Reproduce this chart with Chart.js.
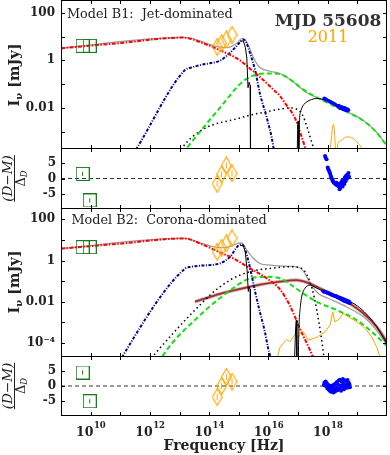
<!DOCTYPE html>
<html><head><meta charset="utf-8">
<script src="https://cdn.jsdelivr.net/npm/chart.js@4.4.1/dist/chart.umd.min.js"></script>
<style>
html,body{margin:0;padding:0;background:#fff;}
#wrap{position:relative;width:390px;height:455px;overflow:hidden;}
#wrap canvas{position:absolute;left:0;}
</style></head><body>
<div id="wrap">
<canvas id="c1" width="390" height="149" style="top:0px"></canvas>
<canvas id="c2" width="390" height="61" style="top:148px"></canvas>
<canvas id="c3" width="390" height="149" style="top:208px"></canvas>
<canvas id="c4" width="390" height="99" style="top:356px"></canvas>
</div>
<script>
// ===== axes (log10 of frequency in Hz, log10 of flux density in mJy) =====
const xRangeExp = [9, 20];
const xTickExps = [10, 12, 14, 16, 18];
const xMarkExps = [10, 11, 12, 13, 14, 15, 16, 17, 18, 19];
const yRangeB1 = [-3.73, 2.54];
const yRangeB2 = [-4.68, 2.55];
const yMarksB1 = [-3, -2, -1, 0, 1, 2];
const yMarksB2 = [-4, -3, -2, -1, 0, 1, 2];
const yLabelsB1 = {"2": "100", "0": "1", "-2": "0.01"};
const yLabelsB2 = {"2": "100", "0": "1", "-2": "0.01", "-4": "10\u207B\u2074"};
const resRange = [-10, 10];
const resMarks = [-5, 0, 5];

// ===== observed data =====
const radioNu = [9.73, 9.97];
const radioFluxB1 = [0.61, 0.61];
const radioFluxB2 = [0.65, 0.65];
const radioResB1 = [1.5, -7.2];
const radioResB2 = [4.5, -5.1];
const radioResErr = [0.7, 0.7];
const optNu = [14.27, 14.42, 14.58, 14.77];
const optFluxB1 = [0.57, 0.72, 0.88, 1.07];
const optFluxB2 = [0.43, 0.62, 0.83, 1.08];
const optResB1 = [-1.7, 1.4, 4.3, 1.7];
const optResB2 = [-3.7, 0.0, 3.0, 1.5];
const optResErr = [1, 1, 1, 1];

const xrayB1 = [[17.88,-1.60],[17.90,-1.62],[17.93,-1.63],[17.96,-1.66],[18.00,-1.69],[18.03,-1.70],[18.06,-1.72],[18.10,-1.75],[18.13,-1.77],[18.16,-1.79],[18.20,-1.82],[18.23,-1.84],[18.26,-1.86],[18.30,-1.90],[18.33,-1.92],[18.36,-1.95],[18.38,-1.90],[18.40,-2.00],[18.42,-1.96],[18.45,-2.02],[18.47,-1.95],[18.50,-2.05],[18.52,-1.99],[18.55,-2.08],[18.57,-2.00],[18.60,-2.10],[18.62,-2.03],[18.65,-2.12],[18.68,-2.06],[18.70,-2.10]];
const xrayResB1 = [[17.91,7.4],[17.93,6.8],[17.96,6.3],[18.00,3.6],[18.02,3.0],[18.04,2.6],[18.06,2.1],[18.08,1.6],[18.10,0.9],[18.12,0.5],[18.14,-0.2],[18.16,-0.5],[18.18,-0.9],[18.20,-1.2],[18.22,-1.5],[18.25,-1.7],[18.28,-2.0],[18.30,-1.4],[18.32,-2.3],[18.35,-1.8],[18.37,-2.6],[18.40,-3.5],[18.42,-1.9],[18.43,-3.0],[18.44,-1.5],[18.46,-2.2],[18.48,-0.8],[18.50,-2.6],[18.52,-1.2],[18.54,-0.3],[18.56,-1.8],[18.58,0.4],[18.60,-0.9],[18.62,0.9],[18.64,-0.2],[18.66,1.2],[18.68,0.3],[18.70,1.8],[18.72,0.6]];
const xrayB2 = [[17.85,-1.49],[17.88,-1.51],[17.91,-1.52],[17.94,-1.54],[17.97,-1.55],[18.00,-1.57],[18.03,-1.58],[18.06,-1.61],[18.09,-1.62],[18.12,-1.65],[18.15,-1.66],[18.18,-1.69],[18.21,-1.70],[18.24,-1.72],[18.27,-1.74],[18.30,-1.73],[18.33,-1.79],[18.36,-1.77],[18.39,-1.83],[18.42,-1.80],[18.45,-1.88],[18.48,-1.84],[18.51,-1.93],[18.54,-1.87],[18.57,-1.97],[18.60,-1.91],[18.63,-2.00],[18.66,-1.94],[18.69,-2.04],[18.72,-1.98],[18.75,-2.06]];
const xrayResB2 = [[17.87,0.3],[17.89,1.2],[17.91,0.6],[17.93,1.5],[17.95,-0.2],[17.97,0.9],[17.99,-0.8],[18.01,0.4],[18.03,-1.2],[18.05,0.2],[18.07,-1.6],[18.09,-0.4],[18.11,-1.9],[18.13,0.1],[18.15,-1.3],[18.17,-0.6],[18.19,-2.2],[18.21,0.5],[18.23,-1.0],[18.25,-1.8],[18.27,0.8],[18.29,-0.5],[18.31,1.3],[18.33,-1.4],[18.35,0.4],[18.37,1.8],[18.39,-0.9],[18.41,2.1],[18.43,0.2],[18.45,-1.6],[18.47,1.5],[18.49,-0.3],[18.51,2.3],[18.53,0.7],[18.55,-1.1],[18.57,1.9],[18.59,0.1],[18.61,-0.7],[18.63,1.4],[18.65,0.4],[18.67,2.0],[18.69,-0.5],[18.71,1.1],[18.73,0.6],[18.75,-0.4]];

// ===== model curves, Model B1 =====
const jetB1 = [[9,0.51],[11,0.73],[13.1,0.96],[13.3,0.93],[13.69,0.77],[14.36,0.43],[15.04,0.0],[15.38,-0.35],[15.6,-0.57],[16.16,-1.22],[16.39,-1.5],[16.56,-1.8],[16.9,-2.44],[17.06,-3.0],[17.23,-3.64],[17.4,-4.4]];
const discB1 = [[11.4,-4.0],[11.55,-3.71],[13.18,-0.41],[13.4,-0.3],[13.69,-0.2],[14.03,-0.12],[14.36,-0.02],[14.6,0.2],[14.81,0.45],[15.04,0.76],[15.15,0.88],[15.25,0.75],[15.38,0.3],[15.55,-0.41],[15.71,-1.39],[15.94,-2.4],[16.11,-3.25],[16.2,-3.9]];
const compB1 = [[13.1,-3.93],[13.24,-3.7],[13.69,-3.0],[14.36,-2.0],[15.04,-1.0],[15.3,-0.75],[15.6,-0.6],[15.94,-0.55],[16.39,-0.58],[16.73,-0.8],[17.17,-1.22],[17.63,-1.56],[18.1,-1.85],[18.64,-2.16],[19.19,-2.53],[19.6,-2.97],[20,-3.6]];
const dotB1 = [[12.95,-3.9],[13.07,-3.7],[13.4,-3.25],[13.69,-2.98],[14.1,-2.72],[14.81,-2.5],[15.4,-2.3],[15.94,-2.16],[16.39,-2.05],[16.7,-2.0],[16.95,-2.05],[17.15,-2.3],[17.3,-2.8],[17.45,-3.4],[17.58,-3.9]];
const totB1 = [[9,0.52],[13.1,0.97],[13.35,0.95],[13.69,0.82],[14.14,0.62],[14.59,0.53],[14.93,0.72],[15.1,0.92],[15.2,0.88],[15.32,0.65],[15.49,0.12],[15.71,-0.3],[16.05,-0.46],[16.39,-0.55],[16.83,-0.9],[17.29,-1.36],[17.63,-1.56],[18.64,-2.15],[19.19,-2.52],[19.6,-2.96],[20,-3.58]];
const absUvB1 = [[15.05,0.8],[15.15,0.82],[15.22,0.55],[15.27,0.1],[15.31,-1.15],[15.35,-0.92],[15.38,-1.05],[15.39,-2.5],[15.4,-4.5]];
const absXaB1 = [[16.96,-4.5],[16.99,-2.7],[17.0,-2.55],[17.02,-4.5]];
const absXbB1 = [[17.03,-4.5],[17.05,-2.5],[17.08,-2.2],[17.12,-2.02],[17.2,-1.85],[17.3,-1.74],[17.45,-1.65],[17.63,-1.6],[17.8,-1.63],[17.95,-1.72]];
const obs2011B1 = [[18.05,-4.4],[18.12,-3.3],[18.16,-2.85],[18.19,-2.69],[18.22,-2.9],[18.25,-3.5],[18.28,-4.3],[18.34,-3.55],[18.46,-3.36],[18.64,-3.22],[18.81,-3.26],[18.98,-3.43],[19.2,-3.8],[19.3,-4.1]];

// ===== model curves, Model B2 =====
const jetB2 = [[9,0.58],[11,0.82],[13.1,1.07],[13.25,1.06],[13.69,0.83],[14.36,0.4],[14.81,0.11],[15.38,-0.38],[15.94,-0.86],[16.39,-1.4],[16.73,-2.2],[17.06,-3.3],[17.4,-4.34],[17.6,-5.0]];
const discB2 = [[10.95,-5.0],[11.1,-4.59],[13.18,-0.4],[13.4,-0.3],[13.69,-0.25],[14.36,-0.14],[14.7,0.18],[14.98,0.72],[15.1,0.78],[15.27,0.27],[15.43,-0.7],[15.55,-1.51],[15.71,-2.49],[15.88,-3.46],[15.99,-4.26],[16.05,-4.59],[16.1,-5.0]];
const compB2 = [[12.3,-5.0],[12.45,-4.59],[13.69,-2.65],[14.36,-1.83],[15.04,-1.11],[15.38,-0.86],[15.94,-0.79],[16.39,-0.86],[16.73,-1.15],[17.17,-1.59],[17.63,-2.0],[18.3,-2.4],[18.98,-2.89],[19.54,-3.53],[20,-4.15]];
const dotB2 = [[12.05,-4.75],[12.23,-4.43],[13.35,-2.65],[13.69,-2.16],[14.03,-1.67],[14.7,-0.95],[15.38,-0.54],[16.05,-0.38],[16.73,-0.3],[17.12,-0.38],[17.3,-0.7],[17.47,-1.35],[17.63,-2.4],[17.8,-3.9],[17.88,-4.8]];
const coronaB2 = [[13.52,-2.0],[13.69,-1.92],[14.36,-1.62],[15.04,-1.38],[15.71,-1.17],[16.39,-1.02],[16.95,-0.95],[17.29,-1.06],[17.51,-1.19],[18.08,-1.59],[18.64,-2.0],[19.2,-2.56],[19.65,-3.21],[20,-3.95]];
const totB2 = [[9,0.59],[13.1,1.08],[13.25,1.07],[13.69,0.86],[14.14,0.67],[14.5,0.62],[14.81,0.75],[14.98,0.85],[15.1,0.86],[15.27,0.51],[15.49,0.11],[15.71,-0.14],[16.05,-0.22],[16.73,-0.28],[16.95,-0.3],[17.17,-0.5],[17.35,-0.95],[17.5,-1.3],[17.7,-1.62],[18.0,-1.82],[18.64,-2.25],[19.2,-2.72],[19.6,-3.3],[20,-4.1]];
const absUvB2 = [[15.05,0.72],[15.15,0.74],[15.22,0.4],[15.28,-0.5],[15.32,-1.5],[15.35,-1.27],[15.38,-1.4],[15.39,-3.0],[15.4,-5.2]];
const absXaB2 = [[16.87,-5.2],[16.92,-3.2],[16.94,-2.9],[16.96,-5.2]];
const absXbB2 = [[17.0,-5.2],[17.03,-3.2],[17.08,-2.2],[17.12,-1.76],[17.23,-1.35],[17.4,-1.19],[17.55,-1.28],[17.85,-1.5],[18.3,-1.72],[18.64,-1.92],[19.0,-2.2],[19.31,-2.6],[19.6,-3.1],[19.76,-3.46],[20,-4.05]];
const obs2011B2 = [[16.3,-4.7],[16.39,-4.21],[16.61,-3.83],[16.73,-3.94],[16.9,-3.57],[17.01,-3.73],[17.12,-3.41],[17.23,-3.57],[17.34,-3.86],[17.63,-3.73],[17.91,-3.46],[18.08,-3.13],[18.17,-2.49],[18.24,-2.97],[18.39,-2.85],[18.52,-2.56],[18.69,-2.73],[18.98,-2.97],[19.26,-3.29],[19.48,-3.7],[19.65,-4.18],[19.76,-4.67],[19.85,-5.2]];

// ===== styling =====
const FONT = '"DejaVu Serif", serif';
const C = {jet:'#ff0000', disc:'#00008b', comp:'#12e012', dot:'#000000', tot:'#9a9a9a', abs:'#000000',
  corona:'#9a3030', coronaHalo:'rgba(170,80,80,0.45)', obs:'#ffa500', radio:'#1b7a1b', xray:'#0000ff'};

const P = (pairs) => pairs.map(p => ({x: Math.pow(10, p[0]), y: Math.pow(10, p[1])}));
const PR = (nu, r) => nu.map((v, i) => ({x: Math.pow(10, v), y: r[i]}));
function line(pairs, color, width, dash, smooth) {
  return {data: P(pairs), showLine: true, pointRadius: 0, borderColor: color, borderWidth: width,
    borderDash: dash || [], fill: false, clip: 0, tension: 0,
    cubicInterpolationMode: smooth ? 'monotone' : 'default'};
}
function shapeImg(kind, w, h, color) {
  const c = document.createElement('canvas'); c.width = w; c.height = h;
  const g = c.getContext('2d'); g.strokeStyle = color; g.lineWidth = 1.1;
  g.beginPath();
  if (kind === 'diamond') { g.moveTo(w/2, 0.6); g.lineTo(w-0.6, h/2); g.lineTo(w/2, h-0.6); g.lineTo(0.6, h/2); g.closePath(); }
  else { g.rect(0.5, 0.5, w-1, h-1); }
  g.stroke(); return c;
}
const diamondImg = shapeImg('diamond', 11, 18, C.obs);
const squareImg = shapeImg('square', 14, 14, C.radio);
function markers(pts, img) { return {data: pts, showLine: false, pointStyle: img, pointRadius: 7, clip: 0}; }
function dots(pts, r) { return {data: pts, showLine: false, pointStyle: 'circle', pointRadius: r, pointBorderWidth: 0, pointBackgroundColor: C.xray, clip: 0}; }
function errBars(nu, r, e, color) {
  const d = [];
  nu.forEach((v, i) => { d.push({x: Math.pow(10, v), y: r[i] - e[i]}, {x: Math.pow(10, v), y: r[i] + e[i]}, {x: Math.pow(10, v), y: null}); });
  return {data: d, showLine: true, spanGaps: false, pointRadius: 0, borderColor: color, borderWidth: 1, clip: 0};
}
function zeroLine() {
  return {data: [{x: 1e9, y: 0}, {x: 1e20, y: 0}], showLine: true, pointRadius: 0, borderColor: '#333', borderWidth: 1, borderDash: [4, 3], clip: 0};
}

// ===== frame / inward ticks / extra text =====
const extras = {};
const TL = 4;
Chart.register({
  id: 'frame',
  afterDraw(chart) {
    const {ctx, chartArea: a, scales} = chart;
    const cfg = extras[chart.canvas.id];
    ctx.save();
    ctx.strokeStyle = '#000'; ctx.lineWidth = 1;
    ctx.strokeRect(a.left + 0.5, a.top + 0.5, a.right - a.left - 1, a.bottom - a.top - 1);
    ctx.beginPath();
    xMarkExps.forEach(e => {
      const px = Math.round(scales.x.getPixelForValue(Math.pow(10, e))) + 0.5;
      ctx.moveTo(px, a.top); ctx.lineTo(px, a.top + TL);
      ctx.moveTo(px, a.bottom); ctx.lineTo(px, a.bottom - TL);
    });
    cfg.marks.forEach(v => {
      const py = Math.round(scales.y.getPixelForValue(v)) + 0.5;
      ctx.moveTo(a.left, py); ctx.lineTo(a.left + TL, py);
      ctx.moveTo(a.right, py); ctx.lineTo(a.right - TL, py);
    });
    ctx.stroke();
    if (cfg.draw) cfg.draw(ctx, chart);
    ctx.restore();
  }
});

function drawIntensityTitle(ctx, cx, cy) {
  ctx.save(); ctx.translate(cx, cy); ctx.rotate(-Math.PI / 2);
  ctx.fillStyle = '#222'; ctx.textBaseline = 'alphabetic'; ctx.textAlign = 'left';
  const f1 = 'bold 14.5px ' + FONT, f2 = 'bold 10px ' + FONT;
  ctx.font = f1; const w1 = ctx.measureText('I').width, w3 = ctx.measureText(' [mJy]').width;
  ctx.font = f2; const w2 = ctx.measureText('\u03BD').width;
  let x = -(w1 + w2 + w3) / 2;
  ctx.font = f1; ctx.fillText('I', x, 5); x += w1;
  ctx.font = f2; ctx.fillText('\u03BD', x, 8); x += w2;
  ctx.font = f1; ctx.fillText(' [mJy]', x, 5);
  ctx.restore();
}
function drawResidTitle(ctx, cx, cy) {
  ctx.save(); ctx.translate(cx, cy); ctx.rotate(-Math.PI / 2);
  ctx.fillStyle = '#222'; ctx.textBaseline = 'alphabetic'; ctx.textAlign = 'left';
  ctx.font = 'italic 13.5px ' + FONT;
  const num = '(D\u2212M)'; const wn = ctx.measureText(num).width;
  ctx.fillText(num, -wn / 2, -3);
  ctx.fillRect(-wn / 2, -0.5, wn, 1);
  ctx.font = '13px ' + FONT; const wd = ctx.measureText('\u0394').width;
  ctx.font = 'italic 8.5px ' + FONT; const ws = ctx.measureText('D').width;
  const x0 = -(wd + ws) / 2;
  ctx.font = '13px ' + FONT; ctx.fillText('\u0394', x0, 10);
  ctx.font = 'italic 8.5px ' + FONT; ctx.fillText('D', x0 + wd, 12.5);
  ctx.restore();
}

function makeChart(id, datasets, yCfg, bottomPad, marks, draw) {
  extras[id] = {marks, draw};
  return new Chart(document.getElementById(id), {
    type: 'scatter',
    data: {datasets},
    options: {
      responsive: false, animation: false, devicePixelRatio: 1, events: [],
      layout: {autoPadding: false, padding: {left: 0, right: 3, top: 0, bottom: bottomPad}},
      plugins: {legend: {display: false}, tooltip: {enabled: false}},
      scales: {
        x: {type: 'logarithmic', min: Math.pow(10, xRangeExp[0]), max: Math.pow(10, xRangeExp[1]), display: false},
        y: Object.assign({
          position: 'left',
          grid: {display: false, drawTicks: false}, border: {display: false},
          afterFit(s) { s.width = 61; s.paddingTop = 0; s.paddingBottom = 0; }
        }, yCfg)
      }
    }
  });
}
function logY(range, marks, labels) {
  return {
    type: 'logarithmic', min: Math.pow(10, range[0]), max: Math.pow(10, range[1]),
    afterBuildTicks(s) { s.ticks = marks.map(m => ({value: Math.pow(10, m)})); },
    ticks: {autoSkip: false, padding: 6, color: '#222', font: {family: FONT, size: 12, weight: 'bold'},
      callback(v) { const k = String(Math.round(Math.log10(v))); return labels[k] !== undefined ? labels[k] : ''; }}
  };
}
function resY() {
  return {
    type: 'linear', min: resRange[0], max: resRange[1],
    afterBuildTicks(s) { s.ticks = resMarks.map(m => ({value: m})); },
    ticks: {autoSkip: false, padding: 5, color: '#222', font: {family: FONT, size: 12, weight: 'bold'},
      callback(v) { return String(v); }}
  };
}

// ---- Panel 1: Model B1 ----
makeChart('c1', [
  markers(P(radioNu.map((v, i) => [v, radioFluxB1[i]])), squareImg),
  markers(P(optNu.map((v, i) => [v, optFluxB1[i]])), diamondImg),
  dots(P(xrayB1), 1.8),
  line(obs2011B1, C.obs, 1, null, true),
  line(absUvB1, C.abs, 1),
  line(absXaB1, C.abs, 1),
  line(absXbB1, C.abs, 1, null, true),
  line(jetB1, C.jet, 2, [4, 1.5, 1.5, 1.5], true),
  line(discB1, C.disc, 2, [3, 1.5, 1, 1.5], true),
  line(compB1, C.comp, 2, [5, 3], true),
  line(dotB1, C.dot, 1.5, [1.5, 3], true),
  line(totB1, C.tot, 1.2, null, true)
], logY(yRangeB1, yMarksB1, yLabelsB1), 0, yMarksB1.map(m => Math.pow(10, m)), (ctx) => {
  ctx.fillStyle = '#222'; ctx.textBaseline = 'alphabetic'; ctx.textAlign = 'left';
  ctx.font = '12.8px ' + FONT; ctx.fillText('Model B1:  Jet-dominated', 67, 17.5);
  ctx.textAlign = 'center';
  ctx.fillStyle = '#333'; ctx.font = 'bold 17px ' + FONT; ctx.fillText('MJD 55608', 328, 26);
  ctx.fillStyle = C.obs; ctx.font = '16px ' + FONT; ctx.fillText('2011', 328, 41.5);
  drawIntensityTitle(ctx, 14, 75);
});

// ---- Residuals B1 ----
makeChart('c2', [
  markers(PR(radioNu, radioResB1), squareImg),
  errBars(radioNu, radioResB1, radioResErr, C.radio),
  markers(PR(optNu, optResB1), diamondImg),
  errBars(optNu, optResB1, optResErr, C.obs),
  dots(xrayResB1.map(p => ({x: Math.pow(10, p[0]), y: p[1]})), 2),
  zeroLine()
], resY(), 0, resMarks, (ctx) => { drawResidTitle(ctx, 14.5, 30.5); });

// ---- Panel 2: Model B2 ----
makeChart('c3', [
  markers(P(radioNu.map((v, i) => [v, radioFluxB2[i]])), squareImg),
  markers(P(optNu.map((v, i) => [v, optFluxB2[i]])), diamondImg),
  dots(P(xrayB2), 1.9),
  line(absUvB2, C.abs, 1),
  line(absXaB2, C.abs, 1),
  line(absXbB2, C.abs, 1, null, true),
  line(obs2011B2, C.obs, 1),
  line(jetB2, C.jet, 2, [4, 1.5, 1.5, 1.5], true),
  line(discB2, C.disc, 2, [3, 1.5, 1, 1.5], true),
  line(compB2, C.comp, 2, [5, 3], true),
  line(dotB2, C.dot, 1.5, [1.5, 3], true),
  line(coronaB2, C.corona, 1.8, null, true),
  line(coronaB2, C.coronaHalo, 3.6, null, true),
  line(totB2, C.tot, 1.2, null, true)
], logY(yRangeB2, yMarksB2, yLabelsB2), 0, yMarksB2.map(m => Math.pow(10, m)), (ctx) => {
  ctx.fillStyle = '#222'; ctx.textBaseline = 'alphabetic'; ctx.textAlign = 'left';
  ctx.font = '12.8px ' + FONT; ctx.fillText('Model B2:  Corona-dominated', 71.5, 15.5);
  drawIntensityTitle(ctx, 14, 74);
});

// ---- Residuals B2 + x axis labels ----
makeChart('c4', [
  markers(PR(radioNu, radioResB2), squareImg),
  errBars(radioNu, radioResB2, radioResErr, C.radio),
  markers(PR(optNu, optResB2), diamondImg),
  errBars(optNu, optResB2, optResErr, C.obs),
  dots(xrayResB2.map(p => ({x: Math.pow(10, p[0]), y: p[1]})), 2),
  zeroLine()
], resY(), 39, resMarks, (ctx, chart) => {
  drawResidTitle(ctx, 14.5, 30);
  ctx.fillStyle = '#222'; ctx.textBaseline = 'alphabetic'; ctx.textAlign = 'left';
  const fb = 'bold 12.5px ' + FONT, fs = 'bold 8.5px ' + FONT;
  xTickExps.forEach(e => {
    const px = chart.scales.x.getPixelForValue(Math.pow(10, e));
    ctx.font = fb; const wb = ctx.measureText('10').width;
    ctx.font = fs; const ws = ctx.measureText(String(e)).width;
    const x0 = px - (wb + ws) / 2;
    ctx.font = fb; ctx.fillText('10', x0, 80);
    ctx.font = fs; ctx.fillText(String(e), x0 + wb + 0.5, 72);
  });
  ctx.textAlign = 'center'; ctx.font = 'bold 14px ' + FONT;
  ctx.fillText('Frequency [Hz]', 224, 94);
});
</script>
</body></html>
